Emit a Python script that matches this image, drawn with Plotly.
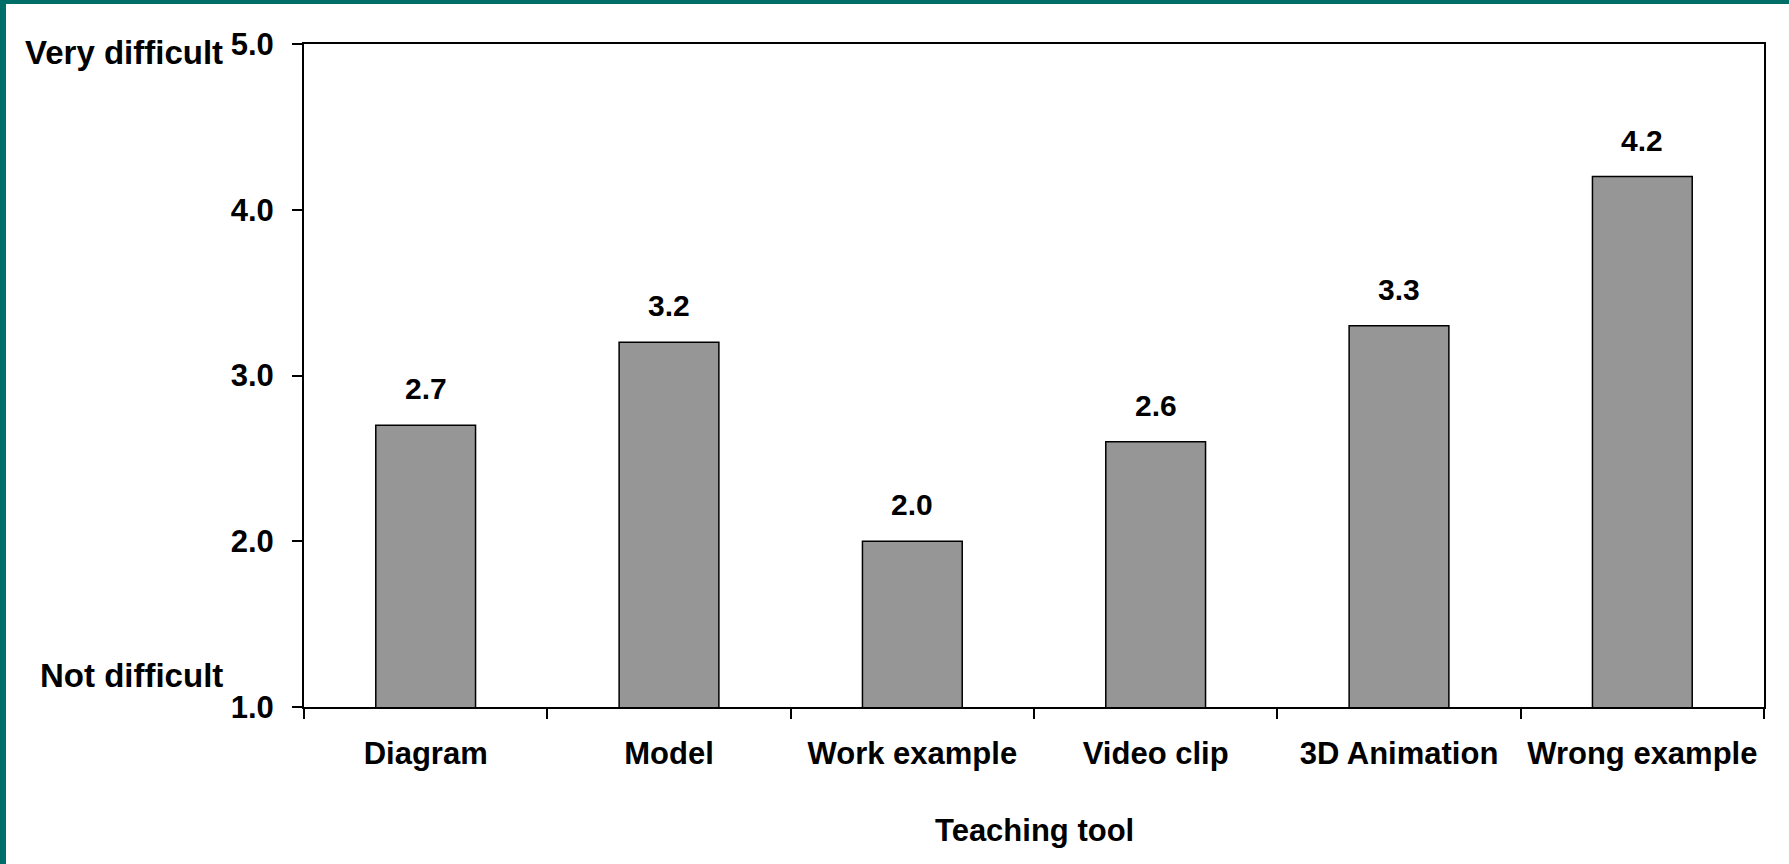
import plotly.graph_objects as go

categories = ["Diagram", "Model", "Work example", "Video clip", "3D Animation", "Wrong example"]
values = [2.7, 3.2, 2.0, 2.6, 3.3, 4.2]
value_labels = ["2.7", "3.2", "2.0", "2.6", "3.3", "4.2"]
y_ticks = [1, 2, 3, 4, 5]
y_tick_labels = ["1.0", "2.0", "3.0", "4.0", "5.0"]
x_title = "Teaching tool"
scale_labels = [("Very difficult", 4.95), ("Not difficult", 1.19)]

W, H = 1789, 864
L, R, T, B = 304, 25, 44, 157
FONT = "Arial, Liberation Sans, sans-serif"
TEAL = "#006E68"

fig = go.Figure()
fig.add_trace(go.Bar(
    x=categories, y=values,
    marker=dict(color="#969696", line=dict(color="black", width=1.5)),
    width=0.41,
))

annotations = []
for c, v, t in zip(categories, values, value_labels):
    annotations.append(dict(x=c, y=v, text=t, showarrow=False, yanchor="bottom",
                            yshift=18, font=dict(family=FONT, size=30, color="black", weight="bold")))

pw = W - L - R
ph = H - T - B
for txt, yv in scale_labels:
    annotations.append(dict(x=(225 - L) / pw, xref="paper", y=yv, yref="y", text=txt,
                            showarrow=False, xanchor="right", yanchor="middle",
                            font=dict(family=FONT, size=33, color="black", weight="bold")))
annotations.append(dict(x=0.5, xref="paper", y=(707 - 830) / ph, yref="paper", text=x_title,
                        showarrow=False, xanchor="center", yanchor="middle",
                        font=dict(family=FONT, size=31, color="black", weight="bold")))

shapes = [
    dict(type="rect", xref="paper", yref="paper", x0=(0 - L) / pw, x1=(6 - L) / pw,
         y0=(707 - 864) / ph, y1=(707 - 0) / ph, fillcolor=TEAL, line=dict(width=0), layer="above"),
    dict(type="rect", xref="paper", yref="paper", x0=(0 - L) / pw, x1=(W - L) / pw,
         y0=(707 - 4) / ph, y1=(707 - 0) / ph, fillcolor=TEAL, line=dict(width=0), layer="above"),
]

fig.update_layout(
    width=W, height=H,
    margin=dict(l=L, r=R, t=T, b=B, pad=0),
    paper_bgcolor="white", plot_bgcolor="white",
    showlegend=False,
    bargap=0.59,
    annotations=annotations,
    shapes=shapes,
    font=dict(family=FONT, size=31, color="black", weight="bold"),
    xaxis=dict(
        type="category", showline=True, linecolor="black", linewidth=2, mirror=True,
        ticks="outside", tickson="boundaries", ticklen=10, tickwidth=2, tickcolor="black",
        showgrid=False, tickfont=dict(family=FONT, size=31, color="black", weight="bold"),
        ticklabelstandoff=18,
        range=[-0.5, 5.5], fixedrange=True,
    ),
    yaxis=dict(
        range=[1, 5], tickvals=y_ticks, ticktext=y_tick_labels,
        showline=True, linecolor="black", linewidth=2, mirror=True,
        ticks="outside", ticklen=10, tickwidth=2, tickcolor="black",
        showgrid=False, zeroline=False, ticklabelstandoff=12,
        tickfont=dict(family=FONT, size=31, color="black", weight="bold"),
    ),
)

fig.write_html("out.html", config={"displayModeBar": False})
